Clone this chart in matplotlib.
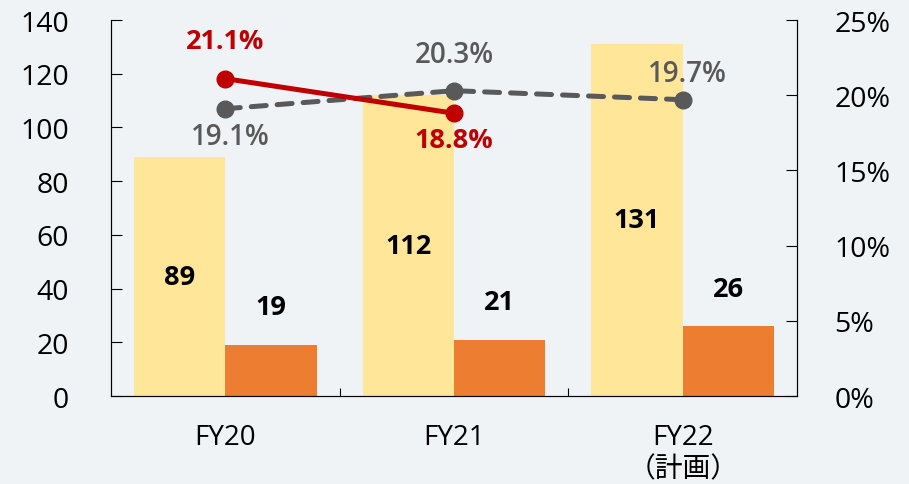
import numpy as np
import matplotlib
matplotlib.use("Agg")
import matplotlib.pyplot as plt

plt.rcParams['font.family'] = ['Open Sans', 'Noto Sans CJK JP', 'DejaVu Sans']

years = ['FY20', 'FY21', 'FY22\n（計画）']
sales = [89, 112, 131]
profit = [19, 21, 26]
rate_red = [21.1, 18.8]
rate_gray = [19.1, 20.3, 19.7]

bg = '#eff3f6'
fig = plt.figure(figsize=(9.09, 4.85), dpi=100, facecolor=bg)
ax = fig.add_axes([0.1221, 0.1814, 0.7547, 0.7753])
ax.set_facecolor(bg)

x = np.arange(len(years))
w = 0.4
ax.bar(x - w / 2, sales, w, color='#ffe699', zorder=1)
ax.bar(x + w / 2, profit, w, color='#ed7d31', zorder=1)

for xi, v in zip(x, sales):
    ax.text(xi - w / 2, v / 2, str(v), ha='center', va='center',
            fontsize=19.5, fontweight='bold', color='black')
for xi, v in zip(x, profit):
    ax.text(xi + w / 2, v + 14, str(v), ha='center', va='center',
            fontsize=19.5, fontweight='bold', color='black')

ax.set_xlim(-0.5, 2.5)
ax.set_ylim(0, 140)
ax.set_yticks(range(0, 141, 20))
ax.set_xticks([0.5, 1.5])
ax.set_xticklabels([])
ax.tick_params(axis='y', direction='in', length=8, labelsize=20.5, pad=30)
ax.tick_params(axis='x', direction='in', length=6)
for xi, lab in zip(x, years):
    ax.text(xi, -10, lab, ha='center', va='top', fontsize=20,
            transform=ax.transData, linespacing=1.2)
ax.spines['top'].set_visible(False)
ax.spines['bottom'].set_color('#404040')

ax2 = ax.twinx()
ax2.set_ylim(0, 25)
ax2.set_yticks(range(0, 26, 5))
ax2.set_yticklabels([f'{v}%' for v in range(0, 26, 5)])
ax2.tick_params(axis='y', direction='in', length=8, labelsize=20.5, pad=27)
ax2.spines['top'].set_visible(False)

xr = x[:2]
xg = x
ax2.plot(xg, rate_gray, color='#595959', lw=3.6, ls=(0, (3, 2.2)),
         marker='o', ms=12, zorder=3, dash_capstyle='round')
ax2.plot(xr, rate_red, color='#c00000', lw=3.6,
         marker='o', ms=12, zorder=4)

ax2.text(xr[0], rate_red[0] + 2.5, f'{rate_red[0]}%', ha='center', va='center',
         fontsize=19.5, fontweight='bold', color='#c00000')
ax2.text(xr[1], rate_red[1] - 1.75, f'{rate_red[1]}%', ha='center', va='center',
         fontsize=19.5, fontweight='bold', color='#c00000')
ax2.text(xg[0] + 0.02, rate_gray[0] - 1.85, f'{rate_gray[0]}%', ha='center', va='center',
         fontsize=20, fontweight='semibold', color='#595959')
ax2.text(xg[1], rate_gray[1] + 2.4, f'{rate_gray[1]}%', ha='center', va='center',
         fontsize=20, fontweight='semibold', color='#595959')
ax2.text(xg[2] + 0.02, rate_gray[2] + 1.75, f'{rate_gray[2]}%', ha='center', va='center',
         fontsize=20, fontweight='semibold', color='#595959')

fig.savefig('out.png', dpi=100, facecolor=bg)
